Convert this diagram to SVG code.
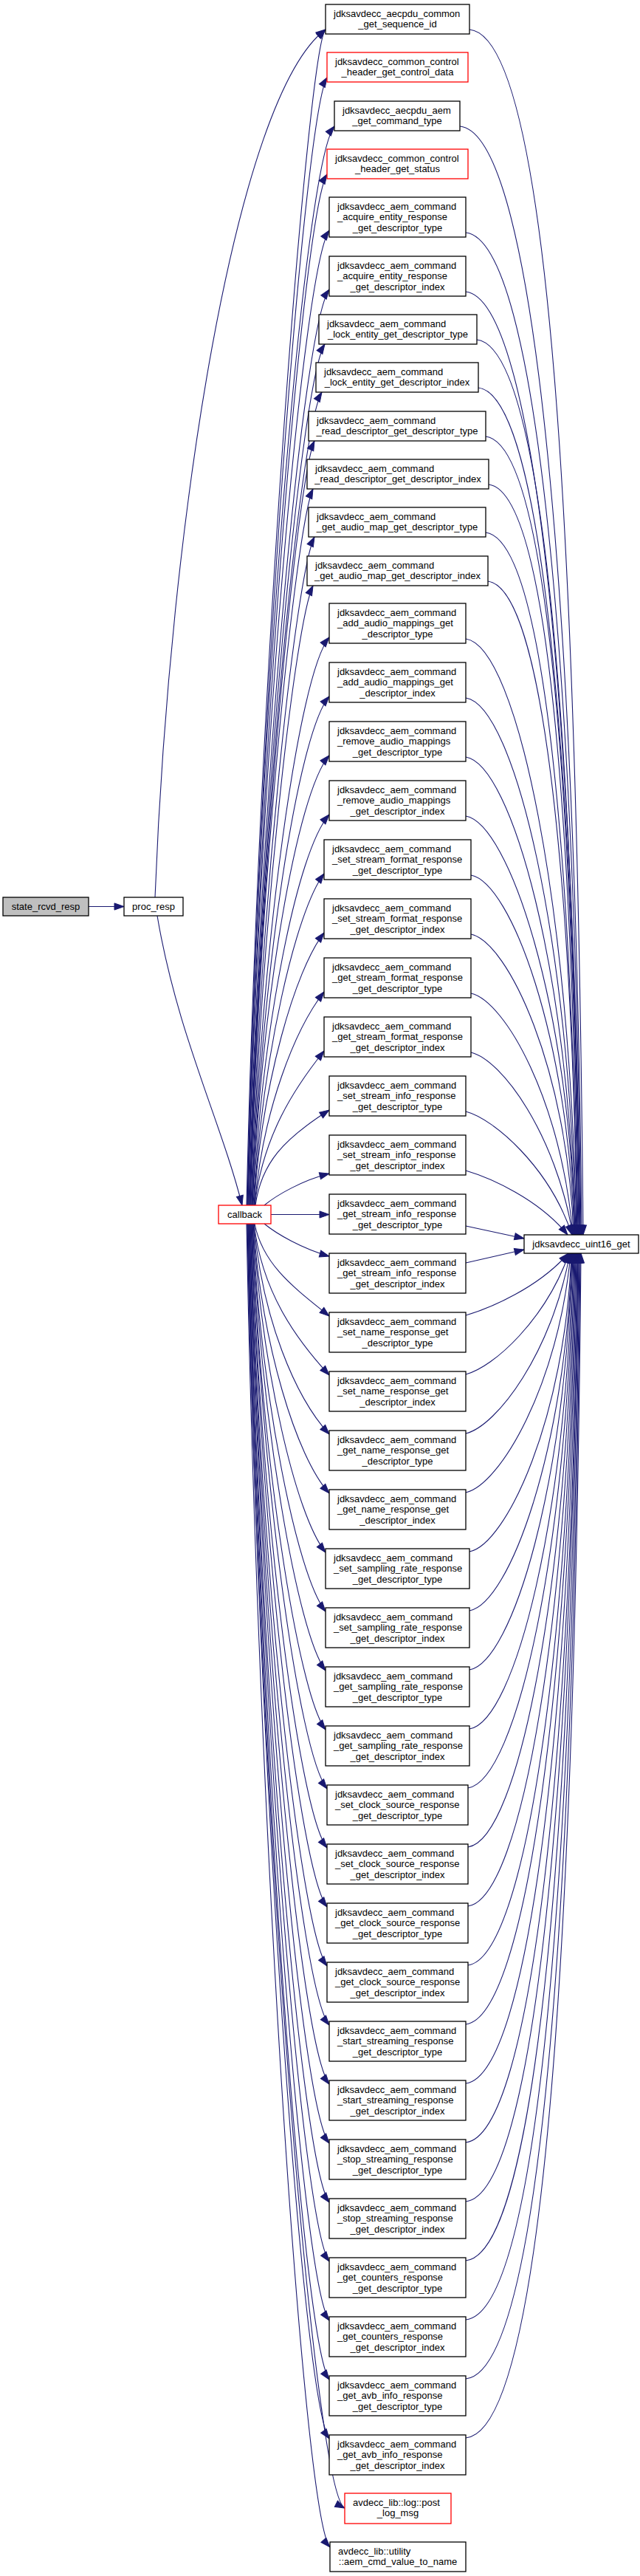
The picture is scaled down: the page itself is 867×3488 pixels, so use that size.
<svg xmlns="http://www.w3.org/2000/svg" width="867" height="3488" viewBox="0 0 867 3488">
<style>
rect{fill:#fff;stroke:#000;stroke-width:1.3}
.red rect{stroke:#f00}
.root rect{fill:#bfbfbf}
text{font-family:"Liberation Sans",Arial,Helvetica,sans-serif;font-size:13px;fill:#000}
.c{text-anchor:middle}
#connectors path{fill:none;stroke:#191970;stroke-width:1.1;marker-end:url(#ah)}
</style>
<defs>
<marker id="ah" markerUnits="userSpaceOnUse" markerWidth="14" markerHeight="10" refX="13" refY="5" orient="auto" overflow="visible">
<path d="M0,0.4 L13,5 L0,9.6 Z" fill="#191970" stroke="#191970" stroke-width="1"/>
</marker>
</defs>
<rect x="0" y="0" width="867" height="3488" style="fill:#fff;stroke:none"/>
<g id="connectors">
<path d="M120,1227.5 L168,1227.5"/>
<path d="M210,1215 C230,700 320,130 441,40"/>
<path d="M213,1240 C240,1400 300,1520 328,1632"/>
<path d="M334,1632 C350,916 418,62 441,40"/>
<path d="M335,1632 C351,945 413,155 443,105"/>
<path d="M335,1632 C350,975 412,221 453,171"/>
<path d="M336,1632 C351,1004 412,286 443,236"/>
<path d="M336,1632 C351,1038 411,362 446,312"/>
<path d="M337,1632 C352,1074 410,442 446,392"/>
<path d="M338,1632 C352,1107 408,516 440,466"/>
<path d="M338,1632 C352,1137 406,581 436,531"/>
<path d="M339,1632 C352,1166 403,647 426,597"/>
<path d="M339,1632 C351,1195 401,712 424,662"/>
<path d="M340,1632 C352,1225 401,777 426,727"/>
<path d="M341,1632 C353,1254 400,843 424,793"/>
<path d="M341,1632 C354,1286 404,913 446,863"/>
<path d="M342,1632 C354,1322 403,993 446,943"/>
<path d="M342,1632 C354,1358 402,1073 446,1023"/>
<path d="M343,1632 C355,1394 402,1153 446,1103"/>
<path d="M344,1632 C355,1430 401,1233 439,1183"/>
<path d="M344,1632 C355,1466 400,1313 439,1263"/>
<path d="M345,1632 C356,1502 400,1393 439,1343"/>
<path d="M345,1632 C356,1538 399,1473 439,1423"/>
<path d="M346,1632 C354,1574 385,1542 446,1503"/>
<path d="M358,1632 C375,1618 410,1598 446,1589"/>
<path d="M367,1644.5 L446,1644.5"/>
<path d="M358,1657 C375,1671 410,1691 446,1701"/>
<path d="M345,1657 C356,1713 399,1744 446,1782"/>
<path d="M344,1657 C355,1749 400,1812 446,1862"/>
<path d="M344,1657 C355,1785 400,1892 446,1942"/>
<path d="M343,1657 C355,1821 401,1972 446,2022"/>
<path d="M343,1657 C355,1857 401,2052 441,2102"/>
<path d="M342,1657 C354,1893 402,2132 441,2182"/>
<path d="M342,1657 C354,1929 403,2212 441,2262"/>
<path d="M341,1657 C353,1965 403,2292 441,2342"/>
<path d="M341,1657 C354,2001 404,2372 443,2422"/>
<path d="M340,1657 C353,2037 404,2452 443,2502"/>
<path d="M340,1657 C353,2073 405,2532 443,2582"/>
<path d="M339,1657 C352,2109 406,2612 443,2662"/>
<path d="M339,1657 C352,2145 406,2692 446,2742"/>
<path d="M338,1657 C352,2181 407,2772 446,2822"/>
<path d="M338,1657 C352,2217 407,2852 446,2902"/>
<path d="M337,1657 C351,2253 408,2932 446,2982"/>
<path d="M337,1657 C351,2289 409,3012 446,3062"/>
<path d="M336,1657 C351,2325 409,3092 446,3142"/>
<path d="M336,1657 C351,2361 410,3172 446,3222"/>
<path d="M335,1657 C350,2397 410,3252 446,3302"/>
<path d="M335,1657 C350,2439 425,3375 467,3396"/>
<path d="M334,1657 C349,2463 411,3409 447,3449"/>
<path d="M636,40 C748,50 782,774 790,1672"/>
<path d="M623,171 C728,181 780,846 788,1672"/>
<path d="M631,315 C729,325 779,926 787,1672"/>
<path d="M631,395 C725,405 778,970 786,1672"/>
<path d="M646,460 C737,470 777,1005 785,1672"/>
<path d="M648,525 C735,535 777,1041 785,1672"/>
<path d="M658,591 C742,601 776,1077 784,1672"/>
<path d="M662,656 C743,666 775,1113 783,1672"/>
<path d="M658,721 C736,731 774,1149 782,1672"/>
<path d="M661,787 C735,797 774,1185 782,1672"/>
<path d="M631,865 C701,875 773,1228 781,1672"/>
<path d="M631,945 C697,955 772,1272 780,1672"/>
<path d="M631,1025 C693,1035 771,1316 779,1672"/>
<path d="M631,1105 C689,1115 771,1360 779,1672"/>
<path d="M638,1185 C692,1195 770,1404 778,1672"/>
<path d="M638,1265 C688,1275 769,1448 777,1672"/>
<path d="M638,1345 C684,1355 761,1492 776,1672"/>
<path d="M638,1425 C680,1435 753,1536 776,1672"/>
<path d="M631,1505 C669,1515 744,1580 775,1672"/>
<path d="M631,1585 C665,1595 730,1624 769,1672"/>
<path d="M631,1660 L710,1677"/>
<path d="M631,1710 L710,1692"/>
<path d="M631,1781 C665,1771 730,1743 770,1697"/>
<path d="M631,1861 C669,1851 739,1787 771,1697"/>
<path d="M631,1941 C673,1931 748,1831 772,1697"/>
<path d="M631,2021 C677,2011 757,1875 773,1697"/>
<path d="M636,2101 C686,2091 766,1919 774,1697"/>
<path d="M636,2181 C690,2171 766,1963 775,1697"/>
<path d="M636,2261 C694,2251 767,2007 775,1697"/>
<path d="M636,2341 C698,2331 768,2051 776,1697"/>
<path d="M634,2421 C700,2411 769,2095 777,1697"/>
<path d="M634,2501 C704,2491 770,2139 778,1697"/>
<path d="M634,2581 C708,2571 771,2183 779,1697"/>
<path d="M634,2661 C712,2651 772,2227 780,1697"/>
<path d="M631,2741 C713,2731 773,2271 781,1697"/>
<path d="M631,2821 C717,2811 774,2315 782,1697"/>
<path d="M631,2901 C721,2891 775,2359 783,1697"/>
<path d="M631,2981 C725,2971 775,2403 783,1697"/>
<path d="M631,3061 C729,3051 776,2447 784,1697"/>
<path d="M631,3141 C733,3131 777,2491 785,1697"/>
<path d="M631,3221 C737,3211 778,2535 786,1697"/>
<path d="M631,3301 C741,3291 779,2579 787,1697"/>
</g>
<g id="state_rcvd_resp" class="root"><rect x="4" y="1215" width="116" height="25"/><text class="c" x="62" y="1232">state_rcvd_resp</text></g>
<g id="proc_resp"><rect x="168" y="1215" width="80" height="25"/><text class="c" x="208" y="1232">proc_resp</text></g>
<g id="callback" class="red"><rect x="296" y="1632" width="71" height="25"/><text class="c" x="331.5" y="1649">callback</text></g>
<g id="uint16_get"><rect x="710" y="1672" width="155" height="25"/><text class="c" x="787.5" y="1689">jdksavdecc_uint16_get</text></g>
<g id="n1"><rect x="441" y="6" width="195" height="40"/><text x="452" y="23">jdksavdecc_aecpdu_common</text><text class="c" x="538.5" y="37.4">_get_sequence_id</text></g>
<g id="n2" class="red"><rect x="443" y="71" width="191" height="40"/><text x="454" y="88">jdksavdecc_common_control</text><text class="c" x="538.5" y="102.4">_header_get_control_data</text></g>
<g id="n3"><rect x="453" y="137" width="170" height="40"/><text x="464" y="154">jdksavdecc_aecpdu_aem</text><text class="c" x="538" y="168.4">_get_command_type</text></g>
<g id="n4" class="red"><rect x="443" y="202" width="191" height="40"/><text x="454" y="219">jdksavdecc_common_control</text><text class="c" x="538.5" y="233.4">_header_get_status</text></g>
<g id="n5"><rect x="446" y="267" width="185" height="54"/><text x="457" y="283.5">jdksavdecc_aem_command</text><text x="457" y="298">_acquire_entity_response</text><text class="c" x="538.5" y="312.5">_get_descriptor_type</text></g>
<g id="n6"><rect x="446" y="347" width="185" height="54"/><text x="457" y="363.5">jdksavdecc_aem_command</text><text x="457" y="378">_acquire_entity_response</text><text class="c" x="538.5" y="392.5">_get_descriptor_index</text></g>
<g id="n7"><rect x="432" y="426" width="214" height="40"/><text x="443" y="443">jdksavdecc_aem_command</text><text class="c" x="539" y="457.4">_lock_entity_get_descriptor_type</text></g>
<g id="n8"><rect x="428" y="491" width="220" height="40"/><text x="439" y="508">jdksavdecc_aem_command</text><text class="c" x="538" y="522.4">_lock_entity_get_descriptor_index</text></g>
<g id="n9"><rect x="418" y="557" width="240" height="40"/><text x="429" y="574">jdksavdecc_aem_command</text><text class="c" x="538" y="588.4">_read_descriptor_get_descriptor_type</text></g>
<g id="n10"><rect x="416" y="622" width="246" height="40"/><text x="427" y="639">jdksavdecc_aem_command</text><text class="c" x="539" y="653.4">_read_descriptor_get_descriptor_index</text></g>
<g id="n11"><rect x="418" y="687" width="240" height="40"/><text x="429" y="704">jdksavdecc_aem_command</text><text class="c" x="538" y="718.4">_get_audio_map_get_descriptor_type</text></g>
<g id="n12"><rect x="416" y="753" width="245" height="40"/><text x="427" y="770">jdksavdecc_aem_command</text><text class="c" x="538.5" y="784.4">_get_audio_map_get_descriptor_index</text></g>
<g id="n13"><rect x="446" y="817" width="185" height="54"/><text x="457" y="833.5">jdksavdecc_aem_command</text><text x="457" y="848">_add_audio_mappings_get</text><text class="c" x="538.5" y="862.5">_descriptor_type</text></g>
<g id="n14"><rect x="446" y="897" width="185" height="54"/><text x="457" y="913.5">jdksavdecc_aem_command</text><text x="457" y="928">_add_audio_mappings_get</text><text class="c" x="538.5" y="942.5">_descriptor_index</text></g>
<g id="n15"><rect x="446" y="977" width="185" height="54"/><text x="457" y="993.5">jdksavdecc_aem_command</text><text x="457" y="1008">_remove_audio_mappings</text><text class="c" x="538.5" y="1022.5">_get_descriptor_type</text></g>
<g id="n16"><rect x="446" y="1057" width="185" height="54"/><text x="457" y="1073.5">jdksavdecc_aem_command</text><text x="457" y="1088">_remove_audio_mappings</text><text class="c" x="538.5" y="1102.5">_get_descriptor_index</text></g>
<g id="n17"><rect x="439" y="1137" width="199" height="54"/><text x="450" y="1153.5">jdksavdecc_aem_command</text><text x="450" y="1168">_set_stream_format_response</text><text class="c" x="538.5" y="1182.5">_get_descriptor_type</text></g>
<g id="n18"><rect x="439" y="1217" width="199" height="54"/><text x="450" y="1233.5">jdksavdecc_aem_command</text><text x="450" y="1248">_set_stream_format_response</text><text class="c" x="538.5" y="1262.5">_get_descriptor_index</text></g>
<g id="n19"><rect x="439" y="1297" width="199" height="54"/><text x="450" y="1313.5">jdksavdecc_aem_command</text><text x="450" y="1328">_get_stream_format_response</text><text class="c" x="538.5" y="1342.5">_get_descriptor_type</text></g>
<g id="n20"><rect x="439" y="1377" width="199" height="54"/><text x="450" y="1393.5">jdksavdecc_aem_command</text><text x="450" y="1408">_get_stream_format_response</text><text class="c" x="538.5" y="1422.5">_get_descriptor_index</text></g>
<g id="n21"><rect x="446" y="1457" width="185" height="54"/><text x="457" y="1473.5">jdksavdecc_aem_command</text><text x="457" y="1488">_set_stream_info_response</text><text class="c" x="538.5" y="1502.5">_get_descriptor_type</text></g>
<g id="n22"><rect x="446" y="1537" width="185" height="54"/><text x="457" y="1553.5">jdksavdecc_aem_command</text><text x="457" y="1568">_set_stream_info_response</text><text class="c" x="538.5" y="1582.5">_get_descriptor_index</text></g>
<g id="n23"><rect x="446" y="1617" width="185" height="54"/><text x="457" y="1633.5">jdksavdecc_aem_command</text><text x="457" y="1648">_get_stream_info_response</text><text class="c" x="538.5" y="1662.5">_get_descriptor_type</text></g>
<g id="n24"><rect x="446" y="1697" width="185" height="54"/><text x="457" y="1713.5">jdksavdecc_aem_command</text><text x="457" y="1728">_get_stream_info_response</text><text class="c" x="538.5" y="1742.5">_get_descriptor_index</text></g>
<g id="n25"><rect x="446" y="1777" width="185" height="54"/><text x="457" y="1793.5">jdksavdecc_aem_command</text><text x="457" y="1808">_set_name_response_get</text><text class="c" x="538.5" y="1822.5">_descriptor_type</text></g>
<g id="n26"><rect x="446" y="1857" width="185" height="54"/><text x="457" y="1873.5">jdksavdecc_aem_command</text><text x="457" y="1888">_set_name_response_get</text><text class="c" x="538.5" y="1902.5">_descriptor_index</text></g>
<g id="n27"><rect x="446" y="1937" width="185" height="54"/><text x="457" y="1953.5">jdksavdecc_aem_command</text><text x="457" y="1968">_get_name_response_get</text><text class="c" x="538.5" y="1982.5">_descriptor_type</text></g>
<g id="n28"><rect x="446" y="2017" width="185" height="54"/><text x="457" y="2033.5">jdksavdecc_aem_command</text><text x="457" y="2048">_get_name_response_get</text><text class="c" x="538.5" y="2062.5">_descriptor_index</text></g>
<g id="n29"><rect x="441" y="2097" width="195" height="54"/><text x="452" y="2113.5">jdksavdecc_aem_command</text><text x="452" y="2128">_set_sampling_rate_response</text><text class="c" x="538.5" y="2142.5">_get_descriptor_type</text></g>
<g id="n30"><rect x="441" y="2177" width="195" height="54"/><text x="452" y="2193.5">jdksavdecc_aem_command</text><text x="452" y="2208">_set_sampling_rate_response</text><text class="c" x="538.5" y="2222.5">_get_descriptor_index</text></g>
<g id="n31"><rect x="441" y="2257" width="195" height="54"/><text x="452" y="2273.5">jdksavdecc_aem_command</text><text x="452" y="2288">_get_sampling_rate_response</text><text class="c" x="538.5" y="2302.5">_get_descriptor_type</text></g>
<g id="n32"><rect x="441" y="2337" width="195" height="54"/><text x="452" y="2353.5">jdksavdecc_aem_command</text><text x="452" y="2368">_get_sampling_rate_response</text><text class="c" x="538.5" y="2382.5">_get_descriptor_index</text></g>
<g id="n33"><rect x="443" y="2417" width="191" height="54"/><text x="454" y="2433.5">jdksavdecc_aem_command</text><text x="454" y="2448">_set_clock_source_response</text><text class="c" x="538.5" y="2462.5">_get_descriptor_type</text></g>
<g id="n34"><rect x="443" y="2497" width="191" height="54"/><text x="454" y="2513.5">jdksavdecc_aem_command</text><text x="454" y="2528">_set_clock_source_response</text><text class="c" x="538.5" y="2542.5">_get_descriptor_index</text></g>
<g id="n35"><rect x="443" y="2577" width="191" height="54"/><text x="454" y="2593.5">jdksavdecc_aem_command</text><text x="454" y="2608">_get_clock_source_response</text><text class="c" x="538.5" y="2622.5">_get_descriptor_type</text></g>
<g id="n36"><rect x="443" y="2657" width="191" height="54"/><text x="454" y="2673.5">jdksavdecc_aem_command</text><text x="454" y="2688">_get_clock_source_response</text><text class="c" x="538.5" y="2702.5">_get_descriptor_index</text></g>
<g id="n37"><rect x="446" y="2737" width="185" height="54"/><text x="457" y="2753.5">jdksavdecc_aem_command</text><text x="457" y="2768">_start_streaming_response</text><text class="c" x="538.5" y="2782.5">_get_descriptor_type</text></g>
<g id="n38"><rect x="446" y="2817" width="185" height="54"/><text x="457" y="2833.5">jdksavdecc_aem_command</text><text x="457" y="2848">_start_streaming_response</text><text class="c" x="538.5" y="2862.5">_get_descriptor_index</text></g>
<g id="n39"><rect x="446" y="2897" width="185" height="54"/><text x="457" y="2913.5">jdksavdecc_aem_command</text><text x="457" y="2928">_stop_streaming_response</text><text class="c" x="538.5" y="2942.5">_get_descriptor_type</text></g>
<g id="n40"><rect x="446" y="2977" width="185" height="54"/><text x="457" y="2993.5">jdksavdecc_aem_command</text><text x="457" y="3008">_stop_streaming_response</text><text class="c" x="538.5" y="3022.5">_get_descriptor_index</text></g>
<g id="n41"><rect x="446" y="3057" width="185" height="54"/><text x="457" y="3073.5">jdksavdecc_aem_command</text><text x="457" y="3088">_get_counters_response</text><text class="c" x="538.5" y="3102.5">_get_descriptor_type</text></g>
<g id="n42"><rect x="446" y="3137" width="185" height="54"/><text x="457" y="3153.5">jdksavdecc_aem_command</text><text x="457" y="3168">_get_counters_response</text><text class="c" x="538.5" y="3182.5">_get_descriptor_index</text></g>
<g id="n43"><rect x="446" y="3217" width="185" height="54"/><text x="457" y="3233.5">jdksavdecc_aem_command</text><text x="457" y="3248">_get_avb_info_response</text><text class="c" x="538.5" y="3262.5">_get_descriptor_type</text></g>
<g id="n44"><rect x="446" y="3297" width="185" height="54"/><text x="457" y="3313.5">jdksavdecc_aem_command</text><text x="457" y="3328">_get_avb_info_response</text><text class="c" x="538.5" y="3342.5">_get_descriptor_index</text></g>
<g id="n45" class="red"><rect x="467" y="3376" width="144" height="41"/><text x="478" y="3393">avdecc_lib::log::post</text><text class="c" x="539" y="3407.4">_log_msg</text></g>
<g id="n46"><rect x="447" y="3442" width="184" height="40"/><text x="458" y="3459">avdecc_lib::utility</text><text class="c" x="539" y="3473.4">::aem_cmd_value_to_name</text></g>
</svg>
